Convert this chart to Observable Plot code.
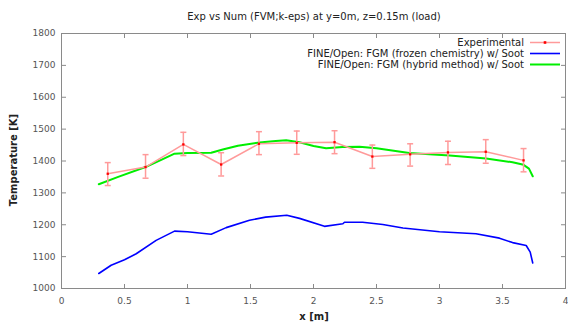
<!DOCTYPE html>
<html>
<head>
<meta charset="utf-8">
<script src="https://cdn.jsdelivr.net/npm/d3@7"></script>
<script src="https://cdn.jsdelivr.net/npm/@observablehq/plot@0.6"></script>
<style>
  html, body { margin: 0; padding: 0; background: #fff; }
  #wrap { position: relative; width: 568px; height: 325px; font-family: "DejaVu Sans", sans-serif; overflow: hidden; }
  #wrap svg { display: block; }
  .ov { position: absolute; white-space: nowrap; color: #222; }
  #title { left: 0; width: 628px; top: 11px; text-align: center; font-size: 10px; }
  #xlab { left: 0; width: 628px; top: 311px; text-align: center; font-size: 10px; font-weight: bold; }
  #ylab { left: 13px; top: 160px; font-size: 10px; font-weight: bold; transform: translate(-50%, -50%) rotate(-90deg); }
  #legend { right: 8px; top: 37px; font-size: 10px; }
  .row { display: flex; align-items: center; justify-content: flex-end; height: 11px; }
  .row svg { margin-left: 6px; }
</style>
</head>
<body>
<div id="wrap">
  <div id="plot"></div>
  <div class="ov" id="title">Exp vs Num (FVM;k-eps) at y=0m, z=0.15m (load)</div>
  <div class="ov" id="xlab">x [m]</div>
  <div class="ov" id="ylab">Temperature [K]</div>
  <div class="ov" id="legend"></div>
</div>
<script>
// ---- data ----
const expX  = [0.367, 0.667, 0.967, 1.267, 1.567, 1.867, 2.167, 2.467, 2.767, 3.067, 3.367, 3.667];
const expT  = [1360, 1381, 1452, 1389, 1454, 1457, 1459, 1414, 1421, 1427, 1429, 1402];
const expLo = [1323, 1346, 1417, 1353, 1420, 1421, 1423, 1377, 1384, 1389, 1393, 1366];
const expHi = [1395, 1420, 1490, 1426, 1492, 1494, 1495, 1450, 1454, 1462, 1467, 1439];

const frzX = [0.296, 0.394, 0.5, 0.593, 0.751, 0.897, 1.0, 1.188, 1.307, 1.492, 1.62, 1.788, 1.889, 2.087, 2.233, 2.246, 2.39, 2.55, 2.71, 3.0, 3.29, 3.476, 3.58, 3.688, 3.72, 3.74];
const frzT = [1047, 1073, 1090, 1109, 1151, 1180, 1178, 1170, 1191, 1214, 1224, 1230, 1220, 1195, 1203, 1208, 1208, 1201, 1190, 1178, 1172, 1158, 1144, 1135, 1114, 1080];

const hybX = [0.296, 0.45, 0.667, 0.8, 0.897, 1.0, 1.188, 1.28, 1.4, 1.571, 1.7, 1.783, 1.889, 2.0, 2.1, 2.23, 2.365, 2.5, 2.76, 3.08, 3.37, 3.58, 3.667, 3.71, 3.74];
const hybT = [1327, 1350, 1381, 1405, 1423, 1425, 1426, 1436, 1448, 1458, 1463, 1465, 1459, 1447, 1440, 1444, 1445, 1440, 1425, 1417, 1408, 1396, 1388, 1376, 1352];

const xTicks = [0, 0.5, 1, 1.5, 2, 2.5, 3, 3.5, 4];
const yTicks = [1000, 1100, 1200, 1300, 1400, 1500, 1600, 1700, 1800];
const seriesNames = ["Experimental", "FINE/Open: FGM (frozen chemistry) w/ Soot", "FINE/Open: FGM (hybrid method) w/ Soot"];

// ---- tables ----
const exp = expX.map((x, i) => ({x, t: expT[i], lo: expLo[i], hi: expHi[i]}));
const frz = frzX.map((x, i) => ({x, t: frzT[i]}));
const hyb = hybX.map((x, i) => ({x, t: hybT[i]}));

const EXP_LIGHT = "#ff9a9a", EXP_DARK = "#ff0000", BLUE = "#0000ff", GREEN = "#00ee00";

// custom symbols
const tickSym = (dx, dy) => ({draw(ctx, size) { const l = Math.sqrt(size / Math.PI); ctx.moveTo(0, 0); ctx.lineTo(dx * l, dy * l); }});
const hline = {draw(ctx, size) { const l = Math.sqrt(size / Math.PI); ctx.moveTo(-l, 0); ctx.lineTo(l, 0); }};

const frameCol = "#8a8a8a";
const tl = 4.5;

const chart = Plot.plot({
  width: 568,
  height: 325,
  marginLeft: 61,
  marginRight: 3,
  marginTop: 33,
  marginBottom: 37,
  style: {fontFamily: "DejaVu Sans, sans-serif", fontSize: "9px", color: "#555", background: "#fff"},
  x: {domain: [0, 4]},
  y: {domain: [1000, 1800]},
  marks: [
    // inward ticks on all four sides
    Plot.dot(xTicks, {x: d => d, y: () => 1000, symbol: tickSym(0, -1), r: tl, stroke: frameCol, fill: "none", strokeWidth: 1}),
    Plot.dot(xTicks, {x: d => d, y: () => 1800, symbol: tickSym(0, 1), r: tl, stroke: frameCol, fill: "none", strokeWidth: 1}),
    Plot.dot(yTicks, {x: () => 0, y: d => d, symbol: tickSym(1, 0), r: tl, stroke: frameCol, fill: "none", strokeWidth: 1}),
    Plot.dot(yTicks, {x: () => 4, y: d => d, symbol: tickSym(-1, 0), r: tl, stroke: frameCol, fill: "none", strokeWidth: 1}),
    Plot.axisX({ticks: xTicks, tickSize: 0, tickPadding: 9, label: null, tickFormat: d => String(d)}),
    Plot.axisY({ticks: yTicks, tickSize: 0, tickPadding: 6, label: null, tickFormat: d => String(d)}),
    // series
    Plot.line(frz, {x: "x", y: "t", stroke: BLUE, strokeWidth: 1.6}),
    Plot.line(hyb, {x: "x", y: "t", stroke: GREEN, strokeWidth: 2}),
    Plot.line(exp, {x: "x", y: "t", stroke: EXP_LIGHT, strokeWidth: 1.5}),
    Plot.ruleX(exp, {x: "x", y1: "lo", y2: "hi", stroke: EXP_LIGHT, strokeWidth: 1.5}),
    Plot.dot(exp, {x: "x", y: "lo", symbol: hline, r: 3, stroke: EXP_LIGHT, fill: "none", strokeWidth: 1.5}),
    Plot.dot(exp, {x: "x", y: "hi", symbol: hline, r: 3, stroke: EXP_LIGHT, fill: "none", strokeWidth: 1.5}),
    Plot.dot(exp, {x: "x", y: "t", symbol: "square", r: 1.3, fill: EXP_DARK, stroke: "none"}),
    Plot.frame({stroke: frameCol, strokeWidth: 1})
  ]
});
document.getElementById("plot").appendChild(chart);

// legend
const legendItems = [
  {name: seriesNames[0], color: EXP_LIGHT, w: 1.5, dot: true},
  {name: seriesNames[1], color: BLUE, w: 1.6, dot: false},
  {name: seriesNames[2], color: GREEN, w: 2, dot: false}
];
const leg = d3.select("#legend");
for (const it of legendItems) {
  const row = leg.append("div").attr("class", "row");
  row.append("span").text(it.name);
  const s = row.append("svg").attr("width", 30).attr("height", 11);
  s.append("line").attr("x1", 0).attr("x2", 30).attr("y1", 5.5).attr("y2", 5.5).attr("stroke", it.color).attr("stroke-width", it.w);
  if (it.dot) s.append("rect").attr("x", 13.7).attr("y", 4.2).attr("width", 2.6).attr("height", 2.6).attr("fill", EXP_DARK);
}
</script>
</body>
</html>
